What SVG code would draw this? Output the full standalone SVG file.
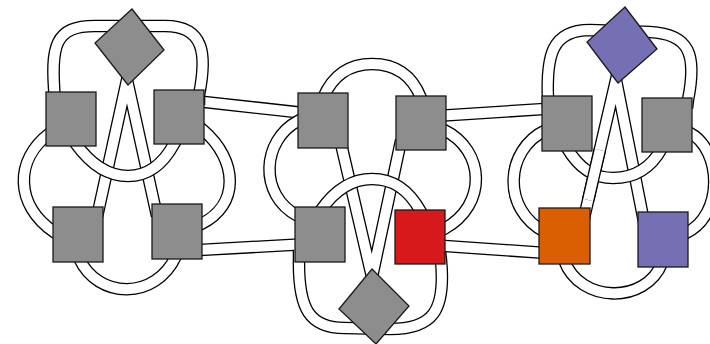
<svg xmlns="http://www.w3.org/2000/svg" width="710" height="344" viewBox="0 0 710 344">
<style>
.k{fill:none;stroke:#000;stroke-width:12.6;stroke-linejoin:miter;stroke-miterlimit:10}
.w{fill:none;stroke:#fff;stroke-width:10;stroke-linejoin:miter;stroke-miterlimit:10}
.n{stroke:#1a1a1a;stroke-width:1.3;stroke-linejoin:miter}
.g{fill:#8d8d8d}
.red{fill:#d7191c}
.org{fill:#d95f02}
.pur{fill:#7570b3}
</style>
<defs>
<path id="c1" d="M195,100.9 L305,113.1"/>
<path id="c2" d="M195,250.3 L303,244.2"/>
<path id="c3" d="M440,115.7 L548,108.8"/>
<path id="c4" d="M438,245.5 L546,253"/>
<path id="lTop" d="M55,110 L55,100 C50,45 55,26 95,26 L165,26 C205,26 207,55 199,95 L199,105"/>
<path id="lA" d="M97,217 L127,80 L157,216"/>
<path id="lLeft" d="M58,127 L50,133 C14,160 15,205 54,232 L62,237"/>
<path id="lRight" d="M196,124 L203,130 C238,160 240,205 201,224 L194,227"/>
<path id="lBot" d="M75,249 L79,258 C98,300 156,300 176,256 L180,247"/>
<path id="lArc" d="M68,133 L76,144 C92,166 110,176 128,176 C146,176 162,166 174,144 L180,134"/>
<path id="mTop" d="M319,107 L323,98 C335,70 355,64 372,64 C390,64 410,70 421,98 L424,106"/>
<path id="mV" d="M339.7,138.3 L372,277 L401.1,140.2"/>
<path id="mLeft" d="M307,116 L298,121 C262,140 258,195 298,216 L307,221"/>
<path id="mRight" d="M435,126 L444,130 C485,150 488,205 444,229 L435,234"/>
<path id="mBot" d="M299,250 L299,258 C298,310 310,328 345,328 L390,329 C432,329 446,312 441,260 L440,252"/>
<path id="mArc" d="M316,217 L321,210 C335,190 352,179 372,179 C392,179 408,188 421,212 L425,219"/>
<path id="rTop" d="M548,108 L548,100 C546,55 552,30 590,30 L650,32 C690,34 697,55 688,100 L687,108"/>
<path id="rA" d="M584,218 L616,80 L644,222"/>
<path id="rLeft" d="M555,126 L546,130 C504,150 502,210 545,232 L554,236.6"/>
<path id="rRight" d="M681,128 L690,133 C722,150 724,215 686,233 L677,237"/>
<path id="rBot" d="M561,252 L564,260 C580,304 646,304 662,263 L665,255"/>
<path id="rArc" d="M562,139.5 L567,148 C580,170 595,178 613,178 C632,178 650,170 662,148 L666,140.6"/>
<path id="rLegOver" d="M599.8,150 L588.2,200"/>
</defs>
<rect width="710" height="344" fill="#fff"/>
<g id="connectors">
<use href="#c1" class="k"/><use href="#c1" class="w"/>
<use href="#c2" class="k"/><use href="#c2" class="w"/>
<use href="#c3" class="k"/><use href="#c3" class="w"/>
<use href="#c4" class="k"/><use href="#c4" class="w"/>
<use href="#lTop" class="k"/><use href="#lTop" class="w"/>
<use href="#lA" class="k"/><use href="#lA" class="w"/>
<use href="#lLeft" class="k"/><use href="#lLeft" class="w"/>
<use href="#lRight" class="k"/><use href="#lRight" class="w"/>
<use href="#lBot" class="k"/><use href="#lBot" class="w"/>
<use href="#lArc" class="k"/><use href="#lArc" class="w"/>
<use href="#mTop" class="k"/><use href="#mTop" class="w"/>
<use href="#mV" class="k"/><use href="#mV" class="w"/>
<use href="#mLeft" class="k"/><use href="#mLeft" class="w"/>
<use href="#mRight" class="k"/><use href="#mRight" class="w"/>
<use href="#mBot" class="k"/><use href="#mBot" class="w"/>
<use href="#mArc" class="k"/><use href="#mArc" class="w"/>
<use href="#rTop" class="k"/><use href="#rTop" class="w"/>
<use href="#rA" class="k"/><use href="#rA" class="w"/>
<use href="#rLeft" class="k"/><use href="#rLeft" class="w"/>
<use href="#rRight" class="k"/><use href="#rRight" class="w"/>
<use href="#rBot" class="k"/><use href="#rBot" class="w"/>
<use href="#rArc" class="k"/><use href="#rArc" class="w"/>
<use href="#rLegOver" class="k" style="stroke-linecap:butt"/><use href="#rLegOver" class="w" style="stroke-linecap:butt"/>
</g>
<g id="L-diamond"><polygon class="n g" points="132,9 164,50 128,85 95,43"/></g>
<g id="L-tl"><rect class="n g" x="46" y="92" width="50" height="54"/></g>
<g id="L-tr"><rect class="n g" x="154" y="90" width="50" height="54"/></g>
<g id="L-bl"><rect class="n g" x="53" y="207" width="50" height="55"/></g>
<g id="L-br"><rect class="n g" x="152" y="204" width="50" height="55"/></g>
<g id="M-tl"><rect class="n g" x="298" y="93" width="50" height="55"/></g>
<g id="M-tr"><rect class="n g" x="396" y="96" width="50" height="54"/></g>
<g id="M-bl"><rect class="n g" x="295" y="207" width="50" height="55"/></g>
<g id="M-red"><rect class="n red" x="395" y="210" width="50" height="54"/></g>
<g id="M-diamond"><polygon class="n g" points="372,269 409,306 376,344 339,309"/></g>
<g id="R-diamond"><polygon class="n pur" points="625,7 657,49 618,83 587,42"/></g>
<g id="R-tl"><rect class="n g" x="542" y="96" width="50" height="55"/></g>
<g id="R-tr"><rect class="n g" x="642" y="98" width="50" height="54"/></g>
<g id="R-orange"><rect class="n org" x="539" y="208" width="51" height="56"/></g>
<g id="R-purple"><rect class="n pur" x="638" y="212" width="50" height="55"/></g>
</svg>
